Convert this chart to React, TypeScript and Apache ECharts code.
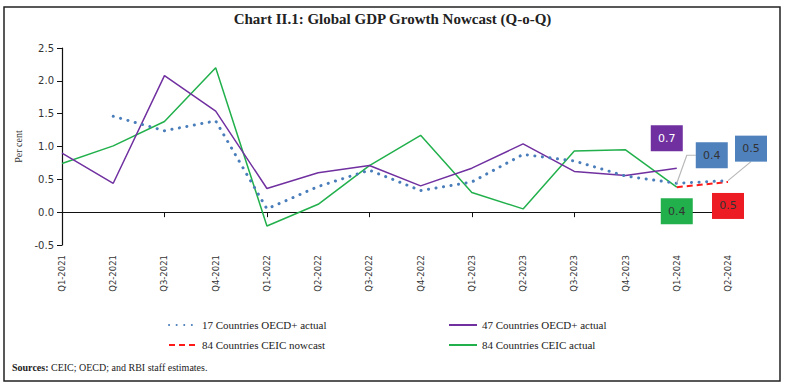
import React, { useEffect, useRef } from "react";
import * as echarts from "echarts";

const categories = [
  "Q1-2021", "Q2-2021", "Q3-2021", "Q4-2021",
  "Q1-2022", "Q2-2022", "Q3-2022", "Q4-2022",
  "Q1-2023", "Q2-2023", "Q3-2023", "Q4-2023",
  "Q1-2024", "Q2-2024",
];

const oecd17Actual = [null, 1.46, 1.24, 1.39, 0.05, 0.39, 0.64, 0.33, 0.46, 0.88, 0.78, 0.55, 0.44, 0.48];
const oecd47Actual = [0.9, 0.44, 2.08, 1.54, 0.36, 0.6, 0.71, 0.4, 0.67, 1.04, 0.62, 0.56, 0.67, null];
const ceic84Nowcast = [null, null, null, null, null, null, null, null, null, null, null, null, 0.38, 0.46];
const ceic84Actual = [0.74, 1.01, 1.38, 2.2, -0.21, 0.12, 0.71, 1.17, 0.3, 0.05, 0.93, 0.95, 0.38, null];

const yTicks = { min: -0.5, max: 2.5, interval: 0.5 };

const NAMES = {
  o17: "17 Countries OECD+ actual",
  o47: "47 Countries OECD+ actual",
  nowcast: "84 Countries CEIC nowcast",
  c84: "84 Countries CEIC actual",
};

export default function App() {
  const ref = useRef<HTMLDivElement>(null);
  useEffect(() => {
    document.body.style.margin = "0";
    if (!ref.current) return;
    const chart = echarts.init(ref.current, undefined, { renderer: "svg" });
    const serif = "Liberation Serif";
    const legendText = { fontFamily: serif, fontSize: 11, color: "#222", lineHeight: 14 };
    const legendCommon = {
      top: 313,
      orient: "vertical",
      itemGap: 6,
      itemWidth: 28,
      itemHeight: 10,
      textStyle: legendText,
      itemStyle: { opacity: 0 },
    };
    const baseGraphic: any[] = [
      {
        type: "rect",
        shape: { x: 4, y: 7, width: 776, height: 374 },
        style: { fill: "none", stroke: "#222", lineWidth: 1.5 },
        silent: true,
      },
      {
        type: "text",
        left: 12,
        top: 362,
        style: {
          text: "{b|Sources:} CEIC; OECD; and RBI staff estimates.",
          fontFamily: serif,
          fontSize: 10,
          fill: "#222",
          rich: { b: { fontFamily: serif, fontSize: 10, fontWeight: "bold", fill: "#222" } },
        },
      },
    ];
    chart.setOption({
      animation: false,
      backgroundColor: "#fff",
      title: {
        text: "Chart II.1: Global GDP Growth Nowcast (Q-o-Q)",
        left: "center",
        top: 11,
        padding: 0,
        textStyle: { fontFamily: serif, fontSize: 15, fontWeight: "bold", color: "#222" },
      },
      grid: { left: 62, right: 57, top: 48, bottom: 143, containLabel: false },
      legend: [
        { ...legendCommon, left: 163, data: [NAMES.o17, NAMES.nowcast] },
        { ...legendCommon, left: 443, data: [NAMES.o47, NAMES.c84] },
      ],
      xAxis: [
        {
          type: "category",
          data: categories,
          boundaryGap: false,
          axisLine: { onZero: true, lineStyle: { color: "#111", width: 1.2 } },
          axisTick: { show: true, length: 5, lineStyle: { color: "#111" } },
          axisLabel: { show: false },
          splitLine: { show: false },
        },
        {
          type: "category",
          data: categories,
          boundaryGap: false,
          position: "bottom",
          axisLine: { show: false, onZero: false },
          axisTick: { show: false },
          axisLabel: {
            rotate: 90,
            margin: 10,
            fontFamily: "DejaVu Sans",
            fontSize: 8.5,
            color: "#333",
          },
          splitLine: { show: false },
        },
      ],
      yAxis: {
        type: "value",
        min: yTicks.min,
        max: yTicks.max,
        interval: yTicks.interval,
        name: "Per cent",
        nameLocation: "middle",
        nameGap: 38,
        nameTextStyle: { fontFamily: serif, fontSize: 10, color: "#333" },
        axisLine: { show: true, lineStyle: { color: "#111", width: 1.2 } },
        axisTick: { show: true, length: 5, lineStyle: { color: "#111" } },
        axisLabel: {
          fontFamily: "DejaVu Sans",
          fontSize: 10,
          color: "#333",
          margin: 8,
          formatter: (v: number) => v.toFixed(1),
        },
        splitLine: { show: false },
      },
      series: [
        {
          name: NAMES.c84,
          type: "line",
          symbol: "none",
          color: "#22b04c",
          lineStyle: { color: "#22b04c", width: 1.5 },
          data: ceic84Actual,
        },
        {
          name: NAMES.o47,
          type: "line",
          symbol: "none",
          color: "#7030a0",
          lineStyle: { color: "#7030a0", width: 1.5 },
          data: oecd47Actual,
        },
        {
          name: NAMES.nowcast,
          type: "line",
          symbol: "none",
          color: "#ff1a1a",
          lineStyle: { color: "#ff1a1a", width: 2, type: [6, 4] },
          data: ceic84Nowcast,
        },
        {
          name: NAMES.o17,
          type: "line",
          symbol: "none",
          color: "#4a7ebb",
          lineStyle: { color: "#4a7ebb", width: 3, type: [0.1, 7.5], cap: "round" },
          data: oecd17Actual,
        },
      ],
      graphic: baseGraphic,
    });

    // value boxes anchored to data points via the chart's own scales
    const px = (idx: number, v: number) =>
      chart.convertToPixel({ seriesIndex: 0 }, [categories[idx], v]) as number[];
    const W = 32, H = 26;
    const box = (cx: number, cy: number, bg: string, fg: string, v: number) => ({
      type: "group",
      z: 100,
      children: [
        { type: "rect", z: 100, shape: { x: cx - W / 2, y: cy - H / 2, width: W, height: H }, style: { fill: bg } },
        {
          type: "text",
          z: 101,
          x: cx,
          y: cy,
          style: {
            text: v.toFixed(1),
            fill: fg,
            fontFamily: "DejaVu Sans",
            fontSize: 11,
            align: "center",
            verticalAlign: "middle",
          },
        },
      ],
    });
    const lead = "#b8b8b8";
    const pPurple = px(12, oecd47Actual[12] as number);
    const pBlue1 = px(12, oecd17Actual[12] as number);
    const pBlue2 = px(13, oecd17Actual[13] as number);
    const pGreen = px(12, ceic84Actual[12] as number);
    const pRed = px(13, ceic84Nowcast[13] as number);
    const extra: any[] = [
      {
        type: "polyline",
        z: 90,
        shape: { points: [pBlue1, [pBlue1[0] + 10, pBlue1[1] - 28], [pBlue1[0] + 19, pBlue1[1] - 28]] },
        style: { stroke: lead, lineWidth: 1.2, fill: "none" },
      },
      {
        type: "line",
        z: 90,
        shape: { x1: pBlue2[0], y1: pBlue2[1], x2: pBlue2[0] + 23, y2: pBlue2[1] - 19 },
        style: { stroke: lead, lineWidth: 1.2 },
      },
      box(pPurple[0] - 10, pPurple[1] - 30, "#7030a0", "#fff", oecd47Actual[12] as number),
      box(pBlue1[0] + 35, pBlue1[1] - 28, "#4f81bd", "#333", oecd17Actual[12] as number),
      box(pBlue2[0] + 23, pBlue2[1] - 32, "#4f81bd", "#333", oecd17Actual[13] as number),
      box(pGreen[0], pGreen[1] + 24, "#22b04c", "#333", ceic84Actual[12] as number),
      box(pRed[0], pRed[1] + 24, "#ed1c24", "#333", ceic84Nowcast[13] as number),
    ];
    chart.setOption({ graphic: [...baseGraphic, ...extra] }, { replaceMerge: ["graphic"] });

    return () => chart.dispose();
  }, []);
  return <div ref={ref} style={{ width: 785, height: 388 }} />;
}
